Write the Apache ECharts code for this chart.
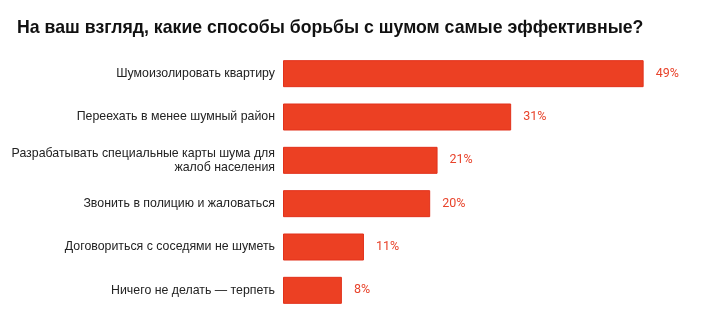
<!DOCTYPE html>
<html><head><meta charset="utf-8">
<script src="https://cdn.jsdelivr.net/npm/echarts@6/dist/echarts.min.js"></script>
<style>html,body{margin:0;padding:0;background:#fff}#c{width:720px;height:328px}</style>
</head><body><div id="c"></div>
<script>
const titleText = 'На ваш взгляд, какие способы борьбы с шумом самые эффективные?';
const categories = [
  'Шумоизолировать квартиру',
  'Переехать в менее шумный район',
  'Разрабатывать специальные карты шума для\nжалоб населения',
  'Звонить в полицию и жаловаться',
  'Договориться с соседями не шуметь',
  'Ничего не делать — терпеть'
];
const values = [49, 31, 21, 20, 11, 8];

const chart = echarts.init(document.getElementById('c'), null, {renderer: 'canvas'});
chart.setOption({
  animation: false,
  title: {
    text: titleText, left: 17, top: 19, padding: 0,
    textStyle: {fontFamily: 'Liberation Sans, Arial', fontSize: 17.7, fontWeight: 'bold', color: '#111'}
  },
  grid: {left: 283, top: 52, bottom: 16, right: 69, containLabel: false},
  xAxis: {type: 'value', min: 0, max: 50, show: false},
  yAxis: {
    type: 'category', data: categories, inverse: true,
    axisLine: {show: false}, axisTick: {show: false}, splitLine: {show: false},
    axisLabel: {margin: 8, color: '#222', fontSize: 12.35, fontFamily: 'Liberation Sans, Arial', lineHeight: 14, align: 'right'}
  },
  series: [{
    type: 'bar', data: values, barWidth: 27,
    itemStyle: {color: '#EC4023', borderColor: '#E2311B', borderWidth: 1},
    label: {show: true, position: 'right', distance: 12, formatter: '{c}%', color: '#E8432B', fontSize: 12.5, fontFamily: 'Roboto'}
  }]
});
</script></body></html>
